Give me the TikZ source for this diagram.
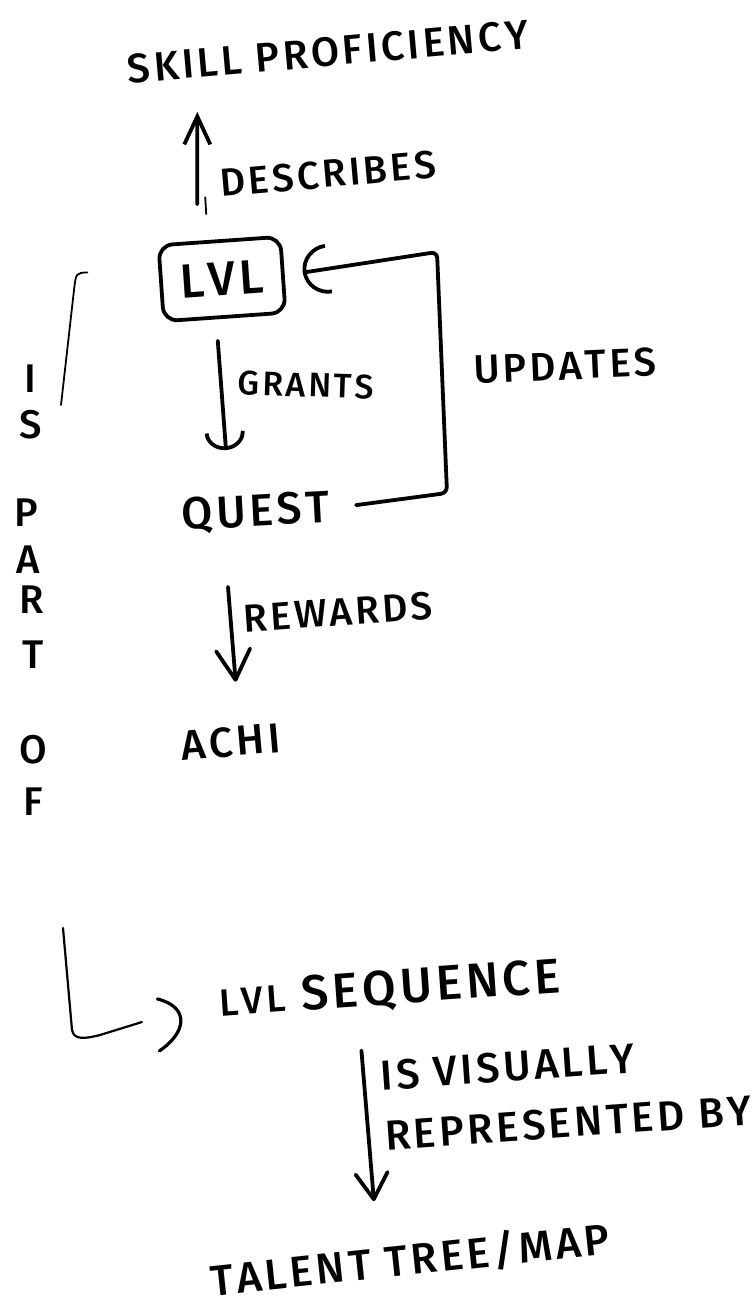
\documentclass[tikz,border=0pt]{standalone}
\usepackage{fontspec}
\setmainfont{Fira Sans}[BoldFont={Fira Sans Medium}]
\usetikzlibrary{arrows.meta}
% marker-like lettering: medium weight, loose letters
\newcommand\handsz[1]{\fontsize{#1}{#1}\selectfont\bfseries\addfontfeatures{Kerning=Off, LetterSpace=8}}
\begin{document}
\begin{tikzpicture}[x=1pt,y=-1pt,
  word/.style={inner sep=0pt, anchor=center},
  pen/.style={line width=3.8pt, line cap=round, line join=round},
  thinpen/.style={line width=1.8pt, line cap=round, line join=round},
]
\useasboundingbox (0,0) rectangle (755,1314);

% ---- main chain ----
\node[word, font=\handsz{41}, rotate=5] (skill) at (328,52) {SKILL PROFICIENCY};
\node[word, font=\handsz{39}, rotate=5] (describes) at (328,174) {DESCRIBES};
\node[draw, pen, rounded corners=14pt, rotate=4, minimum width=122pt,
      minimum height=76pt, inner sep=0pt, font=\handsz{48}] (lvl) at (222,279) {LVL};
\node[word, font=\handsz{34}, rotate=-2] (grants) at (306,385) {GRANTS};
\node[word, font=\handsz{40}, rotate=2.5] (updates) at (565,366) {UPDATES};
\node[word, font=\handsz{45}, rotate=3] (quest) at (256,513) {QUEST};
\node[word, font=\handsz{39}, rotate=4] (rewards) at (338,612) {REWARDS};
\node[word, font=\handsz{42}, rotate=5] (achi) at (231,742) {ACHI};

% ---- "IS PART OF", written downwards ----
\foreach \ch/\px/\py [count=\k] in {I/30/379, S/31/425, P/26/513, A/28/560,
                                    R/32/600, T/33/655, O/33/750, F/33/802}
  \node[word, font=\handsz{40}] (part\k) at (\px,\py) {\ch};

% ---- lower part ----
\node[word, font=\handsz{49}, rotate=4] (seq) at (390,990) {{\handsz{38}LVL} SEQUENCE};
\node[word, font=\fontsize{42}{60}\selectfont\bfseries\addfontfeatures{Kerning=Off, LetterSpace=8},
      rotate=4, align=left] (visual) at (566,1093)
  {IS VISUALLY\\REPRESENTED BY};
\node[word, font=\handsz{43}, rotate=6] (talent) at (410,1260) {TALENT TREE/MAP};

% ---- connectors ----
% describes
\draw[pen, -{Straight Barb[length=28pt, width=26pt]}]
  ([shift={(-22,-35)}]lvl.north) -- ([shift={(-132,45)}]skill.south);
\draw[thinpen] ([shift={(-14,-42)}]lvl.north) -- ([shift={(-13,-25)}]lvl.north);

% grants
\draw[pen, -{Arc Barb[length=18pt, width=40pt]}]
  ([shift={(-7,22)}]lvl.south) -- ([shift={(-29,-44)}]quest.north);

% rewards
\draw[pen, -{Straight Barb[length=30pt, width=34pt, round]}]
  ([shift={(-29,55)}]quest.south) -- ([shift={(6,-45)}]achi.north);

% updates: loops back from quest to lvl
\coordinate (updLow) at (447,493);
\coordinate (updHigh) at (437,252);
\draw[pen, rounded corners=6pt, -{Arc Barb[length=26pt, width=50pt]}]
  ([shift={(26,-4)}]quest.east) -- (updLow) -- (updHigh) -- ([shift={(18,-2)}]lvl.east);

% is part of: bracket from lvl down to the level sequence
\coordinate (partMid) at (61,405);
\draw[thinpen] ([shift={(-72,-11)}]lvl.west) .. controls (76,273) .. (74,290) -- (partMid);
\coordinate (partResume) at (63,928);
\coordinate (partCorner) at (72,1030);
\draw[thinpen, line width=2.2pt] (partResume) -- (partCorner)
  .. controls (74,1040) and (84,1039) .. (100,1035) -- (142,1022);
\draw[pen, line width=3.2pt] ([shift={(-62,-3)}]seq.west)
  .. controls ([shift={(-30,5)}]seq.west) and ([shift={(-32,30)}]seq.west)
  .. ([shift={(-60,49)}]seq.west);

% is visually represented by
\draw[pen, -{Straight Barb[length=26pt, width=32pt, round]}]
  ([shift={(-30,40)}]seq.south) -- ([shift={(-34,-39)}]talent.north);
\end{tikzpicture}
\end{document}
